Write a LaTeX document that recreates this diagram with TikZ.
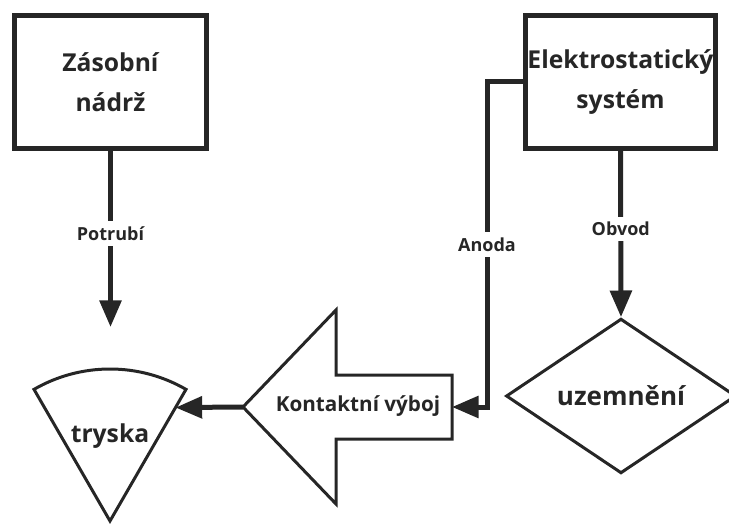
\documentclass[tikz,border=0pt]{standalone}
\usepackage{fontspec}
\setmainfont{Open Sans}
\usepackage{tikz}
\usetikzlibrary{shapes.geometric,arrows.meta,calc}
\definecolor{inkgray}{RGB}{38,38,38}

\tikzset{
  blockbox/.style={draw=inkgray, line width=3.75pt, minimum width=144pt,
    minimum height=100pt, inner sep=0pt, align=center, text=inkgray,
    font=\bfseries\fontsize{18.5}{30}\selectfont},
  flowarrow/.style={draw=inkgray, line width=3.75pt,
    -{Triangle[length=20pt,width=16pt]}},
  linelabel/.style={fill=white, text=inkgray, inner xsep=2pt, inner ysep=4pt,
    font=\bfseries\fontsize{13.5}{15}\selectfont},
  outline/.style={draw=inkgray, line width=2.25pt, line join=miter}
}

\begin{document}
\begin{tikzpicture}[x=0.75pt,y=-0.75pt]
    \useasboundingbox (0,0) rectangle (729,524);

    % Storage tank and electrostatic system
    \node[blockbox] (tank) at (110.5,82) {Zásobní\\nádrž};
    \node[blockbox, minimum width=142.5pt] (esys) at (620.5,82) {Elektrostatický\\systém};

    % Nozzle (circular sector)
    \coordinate (apex) at (110,521);
    \draw[outline] (apex) -- ++(-120:152) arc[start angle=-120, end angle=-60, radius=152] -- cycle;
    \node[text=inkgray, font=\bfseries\fontsize{18.5}{20}\selectfont] (tryska) at (110,436) {tryska};
    \coordinate (nozzleside) at ($(apex)+(-60:131)$);

    % Contact discharge (big left arrow)
    \coordinate (kvtip) at (243,407);
    \coordinate (kvtail) at (452,407);
    \draw[outline] (kvtip) -- (336,310) -- (336,375) -- (452,375)
        -- (452,439) -- (336,439) -- (336,504) -- cycle;
    \node[text=inkgray, font=\bfseries\fontsize{15.5}{17}\selectfont] (kv) at (358,406) {Kontaktní výboj};

    % Grounding
    \node[diamond, outline, minimum width=172.5pt, minimum height=116pt, inner sep=0pt,
          text=inkgray, font=\bfseries\fontsize{19.5}{21}\selectfont] (ground) at (621,396) {uzemnění};

    % Connections
    \coordinate (pipeend) at (110.5,327);
    \coordinate (anodebend) at (487,82);
    \draw[flowarrow] (tank.south) -- node[linelabel, pos=0.47] {Potrubí} (pipeend);
    \draw[flowarrow] (esys.south) -- node[linelabel, pos=0.47] {Obvod} (ground.north);
    \draw[flowarrow] (esys.west) -- (anodebend) |- node[linelabel, pos=0.25] {Anoda} (kvtail);
    \draw[flowarrow] (kvtip) -- (nozzleside);
\end{tikzpicture}
\end{document}
